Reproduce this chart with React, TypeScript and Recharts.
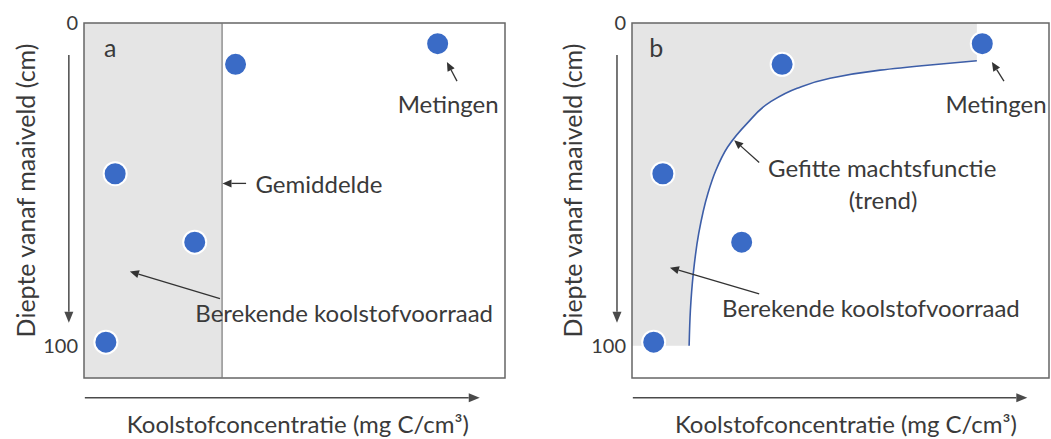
import React from 'react';
import {
  ComposedChart,
  XAxis,
  YAxis,
  Scatter,
  Area,
  Line,
  ReferenceArea,
  ReferenceLine,
  ReferenceDot,
} from 'recharts';

// metingen (koolstofconcentratie, diepte in cm)
const measuredConc = [36, 84, 7.4, 26.3, 5.2];
const measuredDepth = [12.8, 6.4, 46.7, 67.9, 98.9];
const meanConc = 32.8;

const trendDepth = [11.7, 13.0, 14.6, 17.1, 20.2, 24.5, 31.1, 38.5, 45.7, 52.8, 65.2, 77.6, 89.1, 100];
const trendConc = [82.7, 71.5, 59.5, 47.5, 39.6, 33.1, 27.6, 22.9, 20.1, 18.2, 16.0, 14.7, 14.0, 13.7];

const depthTicks = [0, 100];

const FONT = 'Lato, "Open Sans", sans-serif';
const TEXT = '#3a3a3a';
const GRAY = '#e5e5e5';

const points = measuredConc.map((c, i) => ({ c, d: measuredDepth[i] }));
const trendRows = [
  { d: 0, fill: trendConc[0] },
  ...trendDepth.map((d, i) => ({ d, fill: trendConc[i], trend: trendConc[i] })),
];

const ArrowShape = (p: any) => {
  const { x1, y1, x2, y2, color = '#333', w = 1.3, len = 9, half = 4 } = p;
  const ang = Math.atan2(y2 - y1, x2 - x1);
  const cos = Math.cos(ang);
  const sin = Math.sin(ang);
  const bx = x2 - len * cos;
  const by = y2 - len * sin;
  const pts = `${x2},${y2} ${bx - half * sin},${by + half * cos} ${bx + half * sin},${by - half * cos}`;
  return (
    <g>
      <line x1={x1} y1={y1} x2={bx} y2={by} stroke={color} strokeWidth={w} />
      <polygon points={pts} fill={color} />
    </g>
  );
};

const arrow = (key: string, from: number[], to: number[], axis = false) => (
  <ReferenceLine
    key={key}
    segment={[{ x: from[0], y: from[1] }, { x: to[0], y: to[1] }]}
    ifOverflow="visible"
    shape={(p: any) => (
      <ArrowShape {...p} color={axis ? '#4a4a4a' : '#333'} w={axis ? 1.5 : 1.3} len={axis ? 11 : 9} half={axis ? 4.5 : 4} />
    )}
  />
);

const label = (key: string, x: number, y: number, text: React.ReactNode, size = 24, rotate = false) => (
  <ReferenceDot
    key={key}
    x={x}
    y={y}
    r={0}
    ifOverflow="visible"
    shape={(p: any) => (
      <text
        x={p.cx}
        y={p.cy}
        textAnchor="middle"
        dominantBaseline="central"
        fontSize={size}
        fontFamily={FONT}
        fill={TEXT}
        transform={rotate ? `rotate(-90 ${p.cx} ${p.cy})` : undefined}
      >
        {text}
      </text>
    )}
  />
);

const dot = (p: any) => (
  <circle cx={p.cx} cy={p.cy} r={11.5} fill="#3a6bc6" stroke="#ffffff" strokeWidth={2} />
);

const xTitle = 'Koolstofconcentratie (mg C/cm³)';
const yTitle = 'Diepte vanaf maaiveld (cm)';

function Panel({ kind }: { kind: 'a' | 'b' }) {
  const isA = kind === 'a';
  return (
    <ComposedChart
      layout="vertical"
      width={isA ? 525 : 526}
      height={439}
      margin={isA ? { top: 23, right: 20, bottom: 61, left: 44 } : { top: 23, right: 2, bottom: 61, left: 67 }}
    >
      <XAxis type="number" dataKey="c" domain={[0, 100]} hide allowDataOverflow />
      <YAxis
        type="number"
        dataKey="d"
        domain={[0, 110]}
        allowDataOverflow
        ticks={depthTicks}
        interval={0}
        axisLine={false}
        tickLine={false}
        tickSize={4}
        width={40}
        tick={{ fontSize: 20, fill: TEXT, fontFamily: FONT }}
      />
      {isA && (
        <ReferenceArea x1={0} x2={meanConc} y1={0} y2={110} fill={GRAY} fillOpacity={1} stroke="none" />
      )}
      {isA && <ReferenceLine x={meanConc} stroke="#7a7a7a" strokeWidth={1.2} />}
      {!isA && (
        <Area
          data={trendRows}
          dataKey="fill"
          type="monotone"
          fill={GRAY}
          fillOpacity={1}
          stroke="none"
          isAnimationActive={false}
        />
      )}
      {!isA && (
        <Line
          data={trendRows}
          dataKey="trend"
          type="monotone"
          stroke="#3d5ea8"
          strokeWidth={1.6}
          dot={false}
          isAnimationActive={false}
        />
      )}
      <ReferenceArea x1={0} x2={100} y1={0} y2={110} fill="none" stroke="#666" strokeWidth={1.5} />
      <Scatter data={points} shape={dot} isAnimationActive={false} />

      {label('panel', isA ? 6.2 : 5.8, 7.5, kind, 25)}
      {label('met', isA ? 86.5 : 87.3, 24.8, 'Metingen')}
      {arrow('met-ar', isA ? [88.6, 18] : [89.2, 18], isA ? [86.2, 12.1] : [86.3, 12.1])}
      {isA && label('gem', 55.8, 49.7, 'Gemiddelde')}
      {isA && arrow('gem-ar', [38.5, 49.7], [32.9, 49.7])}
      {!isA && label('fit1', 60, 44.7, 'Gefitte machtsfunctie')}
      {!isA && label('fit2', 60.2, 54.7, '(trend)')}
      {!isA && arrow('fit-ar', [30.5, 43.2], [24.5, 36.3])}
      {label('ber', isA ? 61.8 : 57.3, isA ? 89.7 : 88.2, 'Berekende koolstofvoorraad')}
      {arrow('ber-ar', isA ? [32.3, 85.4] : [30.5, 83.9], isA ? [10.9, 77] : [9.1, 75.8])}
      {arrow('y-ar', [-3.6, 9.9], [-3.6, 92.9], true)}
      {arrow('x-ar', [0.2, 116.1], [isA ? 94 : 94.8, 116.1], true)}
      {label('xt', isA ? 50.8 : 51.3, 124.2, xTitle)}
      {label('yt', isA ? -14 : -14.4, 51.9, yTitle, 25, true)}
    </ComposedChart>
  );
}

export default function App() {
  return (
    <div style={{ position: 'absolute', left: 0, top: 0, width: 1051, height: 439, background: '#fff', display: 'flex' }}>
      <Panel kind="a" />
      <Panel kind="b" />
    </div>
  );
}
